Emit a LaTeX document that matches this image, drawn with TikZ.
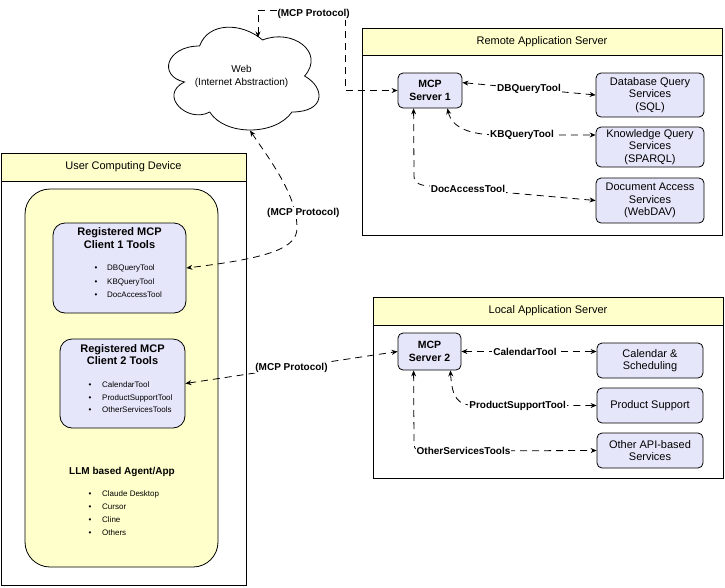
\documentclass[tikz,border=0pt]{standalone}
\usepackage{fontspec}
\setmainfont{Liberation Sans}
\usetikzlibrary{arrows.meta,calc}
\definecolor{hdr}{RGB}{255,255,204}
\definecolor{lav}{RGB}{230,230,250}
\newcommand\bulitem[1]{\makebox[#1][l]{\textbullet}}
\tikzset{
 f11/.style={font=\fontsize{11}{12.5}\selectfont},
 container/.style={draw, line width=0.8pt, fill=white, inner sep=0},
 hdrbox/.style={draw, line width=0.8pt, fill=hdr, inner sep=0, f11},
 svc/.style={draw, line width=0.8pt, fill=lav, rounded corners=5pt, align=center, inner sep=0, f11},
 srv/.style={svc, font=\bfseries\fontsize{10.5}{12.5}\selectfont},
 toolbox/.style={draw, line width=0.8pt, fill=lav, rounded corners=12pt, inner sep=0},
 agentbox/.style={draw, line width=0.8pt, fill=hdr, rounded corners=25pt, inner sep=0},
 ttl/.style={align=center, inner sep=0, font=\bfseries\fontsize{11}{12.5}\selectfont},
 lbl/.style={fill=white, inner sep=1pt, font=\bfseries\fontsize{10}{12}\selectfont},
 conn/.style={line width=0.8pt, dash pattern=on 7pt off 5pt, {Stealth[length=6pt,width=5pt]}-{Stealth[length=6pt,width=5pt]}},
 bul/.style={anchor=west, align=left, inner sep=0},
 cloudline/.style={draw, line width=0.8pt, fill=white},
}
\begin{document}
\begin{tikzpicture}[x=1pt,y=-1pt]
\useasboundingbox (0,0) rectangle (725,587);

% ---------- Remote Application Server ----------
\node[container, minimum width=360pt, minimum height=207pt] (remote) at (542,131.5) {};
\node[hdrbox, minimum width=360pt, minimum height=27pt] (remotehdr) at (542,41.5) {Remote Application Server};
\node[srv, minimum width=64pt, minimum height=35pt] (s1) at (430,90.5) {MCP\\Server 1};
\node[svc, minimum width=108pt, minimum height=44pt] (db) at (650,95) {Database Query\\Services\\(SQL)};
\node[svc, minimum width=108pt, minimum height=40pt] (kq) at (650,147) {Knowledge Query\\Services\\(SPARQL)};
\node[svc, minimum width=108pt, minimum height=45pt] (doc) at (650,200.5) {Document Access\\Services\\(WebDAV)};

% ---------- Local Application Server ----------
\node[container, minimum width=350pt, minimum height=181pt] (local) at (548,387.5) {};
\node[hdrbox, minimum width=350pt, minimum height=28pt] (localhdr) at (548,311) {Local Application Server};
\node[srv, minimum width=63pt, minimum height=37pt] (s2) at (429.5,351.5) {MCP\\Server 2};
\node[svc, minimum width=106pt, minimum height=35pt] (cal) at (650,360.5) {Calendar \&\\Scheduling};
\node[svc, minimum width=106pt, minimum height=35pt] (prod) at (650,405.5) {Product Support};
\node[svc, minimum width=106pt, minimum height=35pt] (other) at (650,450.5) {Other API-based\\Services};

% ---------- User Computing Device ----------
\node[container, minimum width=245pt, minimum height=432pt] (user) at (123.5,369) {};
\node[hdrbox, minimum width=245pt, minimum height=28pt] (userhdr) at (123.5,167) {User Computing Device};
\node[agentbox, minimum width=193pt, minimum height=378pt] (agent) at (121.5,378) {};
\node[toolbox, minimum width=133pt, minimum height=90pt] (client1) at (119.5,268) {};
\node[toolbox, minimum width=125pt, minimum height=89pt] (client2) at (122.5,383.5) {};
\node[ttl] (c1title) at (119.5,238) {Registered MCP\\Client 1 Tools};
\node[bul, font=\fontsize{8}{13.5}\selectfont] (c1list) at (94.5,281.5)
 {\bulitem{12.5pt}DBQueryTool\\\bulitem{12.5pt}KBQueryTool\\\bulitem{12.5pt}DocAccessTool};
\node[ttl] (c2title) at (122.5,354.5) {Registered MCP\\Client 2 Tools};
\node[bul, font=\fontsize{8}{12.5}\selectfont] (c2list) at (88.5,397.5)
 {\bulitem{13.5pt}CalendarTool\\\bulitem{13.5pt}ProductSupportTool\\\bulitem{13.5pt}OtherServicesTools};
\node[ttl, font=\bfseries\fontsize{10}{12}\selectfont] (llmtitle) at (122,472) {LLM based Agent/App};
\node[bul, font=\fontsize{8}{13}\selectfont] (llmlist) at (88.5,513.5)
 {\bulitem{13.5pt}Claude Desktop\\\bulitem{13.5pt}Cursor\\\bulitem{13.5pt}Cline\\\bulitem{13.5pt}Others};

% ---------- Cloud (Web) ----------
\path[cloudline] (199.6,46)
  .. controls (166,46) and (157.6,76) .. (184.5,82)
  .. controls (157.6,95.2) and (187.8,124) .. (209.7,112)
  .. controls (224.8,136) and (275.2,136) .. (292,112)
  .. controls (325.6,112) and (325.6,88) .. (304.6,76)
  .. controls (325.6,52) and (292,28) .. (262.6,40)
  .. controls (241.6,22) and (208,22) .. (199.6,46) -- cycle;
\node[align=center, inner sep=0, font=\fontsize{10}{13}\selectfont] (web) at (241.6,76.5) {Web\\(Internet Abstraction)};
\coordinate (cloudtop) at (258,37.5);
\coordinate (cloudbot) at (250,130.5);

% ---------- Connectors ----------
\draw[conn] ($(s1.north east)+(0,10)$) -- node[lbl]{DBQueryTool} (db.west);
\draw[conn] ($(s1.south east)+(-15,0)$) .. controls (452,128) and (470,135) .. (500,135)
  -- node[lbl,pos=0.23]{KBQueryTool} ($(kq.west)+(0,-12)$);
\draw[conn] ($(s1.south west)+(16,0)$) -- (414,176) .. controls (414,183) and (420,186) .. (432,186)
  -- node[lbl,pos=0.22]{DocAccessTool} (doc.west);

\draw[conn] (s2.east) -- node[lbl,pos=0.47]{CalendarTool} (s2.east -| cal.west);
\draw[conn] ($(s2.south east)+(-11,0)$) .. controls (452,398) and (458,405.5) .. (475,405.5)
  -- node[lbl,pos=0.35]{ProductSupportTool} (prod.west);
\draw[conn] ($(s2.south west)+(16,0)$) -- (414,444) .. controls (414,450) and (418,451) .. (426,451)
  -- node[lbl,pos=0.22]{OtherServicesTools} (other.west);

\draw[conn] (cloudtop) -- (258,10) -- node[lbl,pos=0.64,yshift=-4pt]{(MCP Protocol)} (345,10) |- (s1.west);
\draw[conn] (cloudbot) .. controls (270,160) and (297,195) .. node[lbl,pos=0.85,xshift=8pt]{(MCP Protocol)} (297,228)
  .. controls (297,248) and (270,258) .. (client1.east);
\draw[conn] (client2.east) -- node[lbl]{(MCP Protocol)} (s2.west);
\end{tikzpicture}
\end{document}
